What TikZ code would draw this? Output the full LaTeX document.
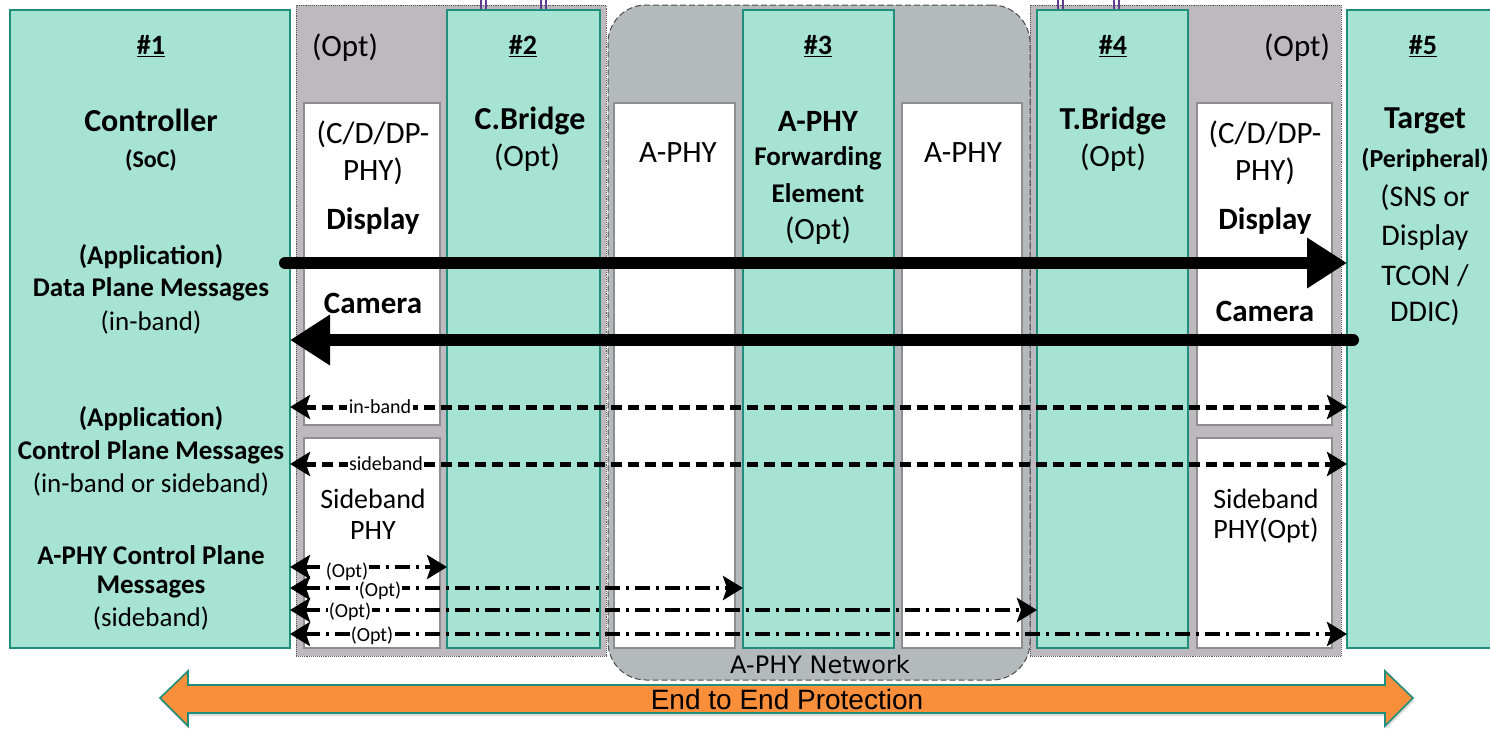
\documentclass[tikz,border=0pt]{standalone}
\usepackage{fontspec}
\setmainfont{Carlito}
\newfontfamily\arialfont{Liberation Sans}
\newfontfamily\netfont{DejaVu Sans}
\usetikzlibrary{arrows.meta,fit,shadows}

\definecolor{tealfill}{HTML}{A6E3D3}
\definecolor{tealline}{HTML}{1F8E7C}
\definecolor{regleft}{HTML}{BDB9BF}
\definecolor{regmid}{HTML}{B4B9BC}
\definecolor{boxline}{HTML}{8E8E8E}
\definecolor{orangefill}{HTML}{F98E3B}
\definecolor{purpleline}{HTML}{5E3C8E}

\tikzset{
  x=1pt, y=-1pt,
  area/.style={inner sep=0pt, outer sep=0pt},
  tealbox/.style={area, fill=tealfill, draw=tealline, line width=1.6pt},
  whitebox/.style={area, fill=white, draw=boxline, line width=1.2pt},
  sideregion/.style={area, fill=regleft, draw=gray!70!black, densely dotted, line width=0.9pt},
  netregion/.style={area, fill=regmid, draw=gray!60!black, dash pattern=on 6pt off 3pt,
    line width=1pt, rounded corners=38pt},
  txt/.style={font=\fontsize{31}{34}\selectfont, inner sep=0pt, align=center},
  sbandtxt/.style={font=\fontsize{28}{31}\selectfont, inner sep=0pt, align=center},
  btxt/.style={font=\fontsize{31}{34}\selectfont\bfseries, inner sep=0pt, align=center},
  hbtxt/.style={font=\fontsize{32}{35}\selectfont\bfseries, inner sep=0pt, align=center},
  numtxt/.style={font=\fontsize{28}{31}\selectfont\bfseries, inner sep=0pt, align=center},
  stxt/.style={font=\fontsize{27}{30}\selectfont, inner sep=0pt, align=center},
  sbtxt/.style={font=\fontsize{27}{30}\selectfont\bfseries, inner sep=0pt, align=center},
  tag/.style={font=\fontsize{20}{22}\selectfont, fill=white, inner sep=1.5pt},
  bigflow/.style={line width=12pt, line cap=round, -{Triangle[length=40pt,width=48pt]}},
  dashflow/.style={line width=5pt, dash pattern=on 11pt off 6pt,
    {Stealth[length=20pt,width=24pt,inset=4pt]}-{Stealth[length=20pt,width=24pt,inset=4pt]}},
  dotdashflow/.style={line width=4pt, dash pattern=on 15pt off 6pt on 3pt off 6pt,
    {Stealth[length=20pt,width=24pt,inset=4pt]}-{Stealth[length=20pt,width=24pt,inset=4pt]}},
  tieline/.style={draw=purpleline, line width=1.3pt}
}

\begin{document}
\begin{tikzpicture}
\useasboundingbox (0,0) rectangle (1490,728);

% background regions
\node[fit={(296,5) (606,656)}, sideregion] (regL) {};
\node[fit={(1030,5) (1341,656)}, sideregion] (regR) {};
\node[fit={(608,5) (1030,680)}, netregion] (net) {};

% ties above the bridges
\foreach \x in {481,486,541,546,1058,1063,1114,1119}
  \draw[tieline] (\x,0) -- (\x,10);

% main blocks
\node[fit={(10,10) (290,648)}, tealbox] (c1) {};
\node[fit={(447,10) (600,648)}, tealbox] (c2) {};
\node[fit={(743,10) (894,648)}, tealbox] (c3) {};
\node[fit={(1037,10) (1188,648)}, tealbox] (c4) {};
\node[fit={(1347,10) (1500,648)}, tealbox] (c5) {};

% PHY blocks
\node[fit={(304,103) (440,425)}, whitebox] (phyL) {};
\node[fit={(304,438) (440,648)}, whitebox] (sbL) {};
\node[fit={(614,103) (735,648)}, whitebox] (aphyL) {};
\node[fit={(902,103) (1022,648)}, whitebox] (aphyR) {};
\node[fit={(1197,103) (1332,425)}, whitebox] (phyR) {};
\node[fit={(1197,438) (1332,648)}, whitebox] (sbR) {};

% texts of block #1
\node[numtxt] (t1) at (151,46) {\underline{\#1}};
\node[hbtxt] (t1a) at (151,120) {Controller};
\node[sbtxt, font=\fontsize{24}{27}\selectfont\bfseries] (t1b) at (151,160) {(SoC)};
\node[sbtxt] (t1c) at (151,257) {(Application)};
\node[sbtxt] (t1d) at (151,289) {Data Plane Messages};
\node[stxt] (t1e) at (151,322) {(in-band)};
\node[sbtxt] (t1f) at (151,419) {(Application)};
\node[sbtxt] (t1g) at (151,452) {Control Plane Messages};
\node[stxt] (t1h) at (151,484) {(in-band or sideband)};
\node[sbtxt] (t1i) at (151,555) {A-PHY Control Plane};
\node[sbtxt] (t1j) at (151,587) {Messages};
\node[stxt] (t1k) at (151,618) {(sideband)};

% texts of block #2 and its PHY
\node[txt] (o2) at (345,48) {(Opt)};
\node[numtxt] (t2) at (523,46) {\underline{\#2}};
\node[hbtxt] (t2a) at (530,121) {C.Bridge};
\node[txt] (t2b) at (527,158) {(Opt)};
\node[txt] (p1) at (373,134) {(C/D/DP-};
\node[txt] (p2) at (373,171) {PHY)};
\node[btxt] (p3) at (373,221) {Display};
\node[btxt] (p4) at (373,303) {Camera};
\node[sbandtxt] (p5) at (373,499) {Sideband};
\node[sbandtxt] (p6) at (373,531) {PHY};

% texts of block #3 and the A-PHYs
\node[txt] (a1) at (678,153) {A-PHY};
\node[numtxt] (t3) at (818,46) {\underline{\#3}};
\node[btxt] (t3a) at (818,121) {A-PHY};
\node[sbtxt] (t3b) at (818,158) {Forwarding};
\node[sbtxt] (t3c) at (818,193) {Element};
\node[txt] (t3d) at (818,231) {(Opt)};
\node[txt] (a2) at (963,153) {A-PHY};
\node[font=\netfont\fontsize{24}{27}\selectfont, inner sep=0pt] (netlbl) at (820,665) {A-PHY Network};

% texts of block #4 and its PHY
\node[numtxt] (t4) at (1113,46) {\underline{\#4}};
\node[hbtxt] (t4a) at (1113,121) {T.Bridge};
\node[txt] (t4b) at (1113,158) {(Opt)};
\node[txt] (o4) at (1297,48) {(Opt)};
\node[txt] (q1) at (1265,134) {(C/D/DP-};
\node[txt] (q2) at (1265,171) {PHY)};
\node[btxt] (q3) at (1265,221) {Display};
\node[btxt] (q4) at (1265,311) {Camera};
\node[sbandtxt] (q5) at (1266,499) {Sideband};
\node[sbandtxt] (q6) at (1266,531) {PHY(Opt)};

% texts of block #5
\node[numtxt] (t5) at (1423,46) {\underline{\#5}};
\node[hbtxt] (t5a) at (1425,121) {Target};
\node[sbtxt, font=\fontsize{26}{29}\selectfont\bfseries] (t5b) at (1425,160) {(Peripheral)};
\node[txt, font=\fontsize{30}{33}\selectfont] (t5c) at (1425,198) {(SNS or};
\node[txt, font=\fontsize{30}{33}\selectfont] (t5d) at (1425,237) {Display};
\node[txt, font=\fontsize{30}{33}\selectfont] (t5e) at (1425,276) {TCON /};
\node[txt, font=\fontsize{30}{33}\selectfont] (t5f) at (1425,313) {DDIC)};

% message levels
\coordinate (ydata) at (0,263);
\coordinate (ycam) at (0,340);
\coordinate (yin) at (0,407);
\coordinate (ysb) at (0,464);
\coordinate (yo1) at (0,567);
\coordinate (yo2) at (0,588);
\coordinate (yo3) at (0,610);
\coordinate (yo4) at (0,634);
\coordinate (dataStart) at (285,263);
\coordinate (camStart) at (1353,340);

% data plane
\draw[bigflow] (dataStart) -- (c5.west |- ydata);
\draw[bigflow] (camStart) -- (c1.east |- ycam);

% application control plane
\draw[dashflow] (c1.east |- yin) -- (c5.west |- yin);
\node[tag] (lin) at (380,407) {in-band};
\draw[dashflow] (c1.east |- ysb) -- (c5.west |- ysb);
\node[tag] (lsb) at (386,464) {sideband};

% A-PHY control plane
\draw[dotdashflow] (c1.east |- yo4) -- (c5.west |- yo4);
\node[tag, inner sep=0.5pt] (lo4) at (372,636) {(Opt)};
\draw[dotdashflow] (c1.east |- yo3) -- (c4.west |- yo3);
\node[tag, inner sep=0.5pt] (lo3) at (350,612) {(Opt)};
\draw[dotdashflow] (c1.east |- yo2) -- (c3.west |- yo2);
\node[tag, inner sep=0.5pt] (lo2) at (380,591) {(Opt)};
\draw[dotdashflow] (c1.east |- yo1) -- (c2.west |- yo1);
\node[tag, inner sep=0.5pt] (lo1) at (347,572) {(Opt)};

% end to end protection
\path[fill=orangefill, draw=tealline, line width=1.6pt, drop shadow={opacity=0.25, shadow xshift=1pt, shadow yshift=-3pt}]
  (160,698) -- (188,671) -- (188,685) -- (1385,685) -- (1385,671) -- (1413,698)
  -- (1385,726) -- (1385,713) -- (188,713) -- (188,726) -- cycle;
\node[font=\arialfont\fontsize{28}{31}\selectfont, inner sep=0pt] (e2e) at (787,699) {End to End Protection};
\end{tikzpicture}
\end{document}
